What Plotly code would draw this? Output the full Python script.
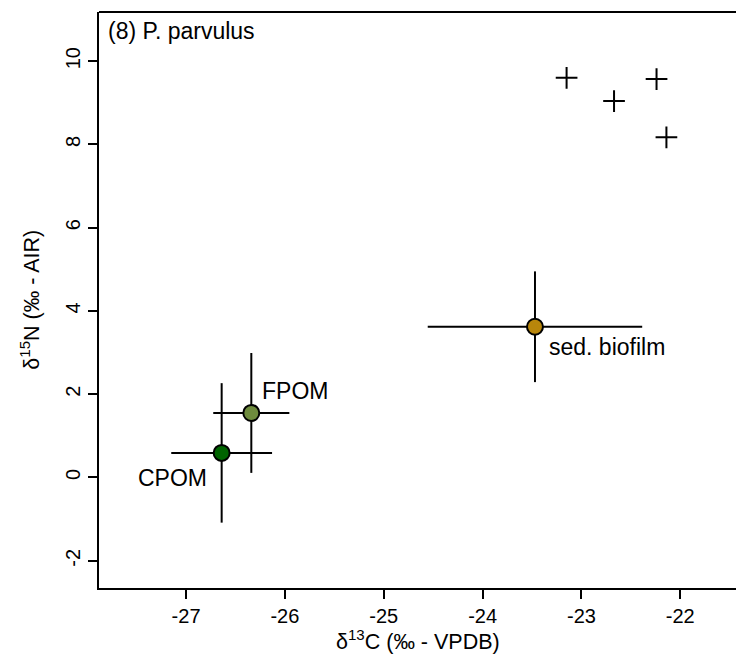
import plotly.graph_objects as go

# ---- data ----
src_names = ["CPOM", "FPOM", "sed. biofilm"]
src_d13C = [-26.64, -26.34, -23.47]
src_d15N = [0.59, 1.55, 3.62]
src_d13C_sd = [0.51, 0.385, 1.085]
src_d15N_sd = [1.675, 1.44, 1.33]
src_colors = ["#006400", "#6E8B3D", "#B8860B"]

consumer_d13C = [-23.15, -22.67, -22.24, -22.14]
consumer_d15N = [9.60, 9.04, 9.57, 8.17]

x_ticks = [-27, -26, -25, -24, -23, -22]
x_ticklabels = ["-27", "-26", "-25", "-24", "-23", "-22"]
y_ticks = [-2, 0, 2, 4, 6, 8, 10]
y_ticklabels = ["-2", "0", "2", "4", "6", "8", "10"]

panel_title = "(8) P. parvulus"
x_title = "δ<sup>13</sup>C (‰ - VPDB)"
y_title = "δ<sup>15</sup>N (‰ - AIR)"

FONT = "Liberation Sans, Arial, Helvetica, sans-serif"

fig = go.Figure()

# consumers
fig.add_trace(go.Scatter(
    x=consumer_d13C, y=consumer_d15N, mode="markers",
    marker=dict(symbol="cross-thin", size=15.5, color="black",
                line=dict(color="black", width=2)),
    showlegend=False, hoverinfo="skip"))

# sources with error bars
for name, xv, yv, xe, ye, col in zip(src_names, src_d13C, src_d15N,
                                     src_d13C_sd, src_d15N_sd, src_colors):
    fig.add_trace(go.Scatter(
        x=[xv], y=[yv], mode="markers",
        error_x=dict(type="data", array=[xe], color="black", thickness=2, width=0),
        error_y=dict(type="data", array=[ye], color="black", thickness=2, width=0),
        marker=dict(symbol="circle", size=16, color=col,
                    line=dict(color="black", width=2)),
        name=name, showlegend=False))

# source labels
label_offsets = {"CPOM": ("right", -13, -25),
                 "FPOM": ("left", 9, 22),
                 "sed. biofilm": ("left", 12, -20)}
for name, xv, yv in zip(src_names, src_d13C, src_d15N):
    anc, dx, dy = label_offsets[name]
    fig.add_annotation(x=xv, y=yv, xref="x", yref="y", text=name,
                       showarrow=False, xanchor=anc, yanchor="middle",
                       xshift=dx, yshift=dy,
                       font=dict(family=FONT, size=23, color="black"))

W, H = 736, 660
ml, mr, mt, mb = 99.3, 0, 12, 71.7
pw = W - ml - mr
ph = H - mt - mb

# panel title
fig.add_annotation(x=(106 - ml) / pw, y=1 - 19 / ph, xref="paper", yref="paper",
                   text=panel_title, showarrow=False, xanchor="left", yanchor="middle",
                   font=dict(family=FONT, size=23, color="black"))

# axis titles
fig.add_annotation(x=0.5, y=-(640 - (H - mb)) / ph, xref="paper", yref="paper",
                   text=x_title, showarrow=False, xanchor="center", yanchor="middle",
                   font=dict(family=FONT, size=21.5, color="black"))
fig.add_annotation(x=(30 - ml) / pw, y=0.5, xref="paper", yref="paper",
                   text=y_title, showarrow=False, xanchor="center", yanchor="middle",
                   textangle=-90,
                   font=dict(family=FONT, size=21.5, color="black"))

# top frame line
fig.add_shape(type="line", xref="paper", yref="paper", x0=0, x1=1, y0=1, y1=1,
              line=dict(color="black", width=2))

fig.update_layout(
    width=W, height=H,
    margin=dict(l=ml, r=mr, t=mt, b=mb, pad=0),
    plot_bgcolor="white", paper_bgcolor="white",
    font=dict(family=FONT, size=20, color="black"),
    xaxis=dict(range=[-27.881, -21.436], tickvals=x_ticks, ticktext=x_ticklabels,
               showgrid=False, zeroline=False, showline=True, linecolor="black",
               linewidth=2, ticks="outside", ticklen=9, tickwidth=2, tickcolor="black",
               tickfont=dict(family=FONT, size=20, color="black")),
    yaxis=dict(range=[-2.655, 11.18], tickvals=y_ticks, ticktext=y_ticklabels,
               showgrid=False, zeroline=False, showline=True, linecolor="black",
               linewidth=2, ticks="outside", ticklen=9, tickwidth=2, tickcolor="black",
               tickangle=-90,
               tickfont=dict(family=FONT, size=20, color="black")),
)

fig.write_html("out.html",
               config={"displayModeBar": False},
               post_script="document.body.style.margin='0';document.body.style.overflow='hidden';")
